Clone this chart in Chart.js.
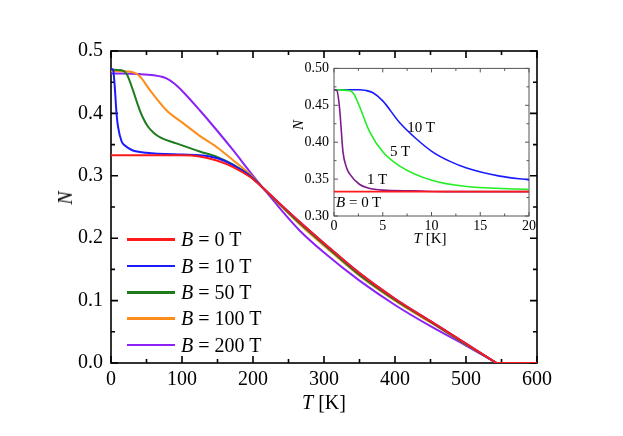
<!DOCTYPE html>
<html>
<head>
<meta charset="utf-8">
<script src="https://cdn.jsdelivr.net/npm/chart.js@4.4.1/dist/chart.umd.min.js"></script>
<style>
  body { margin: 0; background: #fff; }
  #wrap { position: relative; width: 623px; height: 436px; font-family: "Liberation Serif", "Times New Roman", serif; color: #000; }
  #wrap canvas { position: absolute; }
  .lbl { position: absolute; white-space: nowrap; line-height: 1; transform: translate(-50%, -50%); }
  .row { position: absolute; left: 127px; height: 20px; }
  .row span.sw { position: absolute; left: 0; top: 9px; width: 48px; height: 2.5px; }
  .row span.tx { position: absolute; left: 54px; top: 0; font-size: 20px; line-height: 20px; white-space: nowrap; }
</style>
</head>
<body>
<div id="wrap">
  <canvas id="main" width="623" height="436" style="left:0;top:0"></canvas>
  <canvas id="inset" width="260" height="195" style="left:280px;top:55px"></canvas>
  <div id="legend"></div>
  <div class="lbl" style="left:324px;top:402px;font-size:20px"><i>T</i> [K]</div>
  <div class="lbl" style="left:65px;top:198px;font-size:20px;transform:translate(-50%,-50%) rotate(-90deg)"><i>N</i></div>
  <div class="lbl" style="left:430px;top:238px;font-size:15px"><i>T</i> [K]</div>
  <div class="lbl" style="left:298px;top:125px;font-size:15px;transform:translate(-50%,-50%) rotate(-90deg)"><i>N</i></div>
  <div class="lbl" style="left:421px;top:127px;font-size:15px">10 T</div>
  <div class="lbl" style="left:400px;top:151px;font-size:15px">5 T</div>
  <div class="lbl" style="left:377px;top:179px;font-size:15px">1 T</div>
  <div class="lbl" style="left:336px;top:202px;font-size:15px;transform:translate(0,-50%)"><i>B</i> = 0 T</div>
</div>
<script>
// main plot: N vs T for several fields (curves end at Tc ~ 543 K)
const fieldLabels = ["0", "10", "50", "100", "200"];
const mainColors = ["#ff1a1a", "#1a1aff", "#1e7b1e", "#ff8c1a", "#8c22f5"];

const tB0 = [0, 50, 100, 125, 150, 172, 196, 214.5, 240, 266, 300, 350, 400, 450, 500, 543];
const nB0 = [0.333, 0.333, 0.333, 0.331, 0.324, 0.314, 0.298, 0.280, 0.253, 0.226, 0.192, 0.144, 0.103, 0.067, 0.031, 0];

const tB10 = [0, 3, 5, 8, 10, 15, 20, 30, 50, 100, 125, 150, 172, 196, 214.5, 240, 266, 300, 350, 400, 450, 500, 543];
const nB10 = [0.471, 0.470, 0.447, 0.397, 0.378, 0.355, 0.348, 0.341, 0.337, 0.334, 0.333, 0.328, 0.317, 0.2995, 0.280, 0.253, 0.226, 0.192, 0.144, 0.103, 0.067, 0.031, 0];

const tB50 = [0, 15, 22, 31, 38, 45, 52, 60, 70, 92, 125, 150, 172, 196, 214.5, 240, 266, 300, 350, 400, 450, 500, 543];
const nB50 = [0.470, 0.469, 0.463, 0.437, 0.413, 0.393, 0.379, 0.369, 0.361, 0.352, 0.339, 0.330, 0.318, 0.300, 0.280, 0.252, 0.224, 0.190, 0.141, 0.101, 0.066, 0.030, 0];

const tB100 = [0, 25, 40, 55, 78, 102, 125, 150, 172, 196, 214.5, 240, 266, 300, 350, 400, 450, 500, 543];
const nB100 = [0.468, 0.467, 0.460, 0.437, 0.405, 0.384, 0.364, 0.345, 0.325, 0.302, 0.280, 0.251, 0.222, 0.188, 0.140, 0.100, 0.065, 0.030, 0];

const tB200 = [0, 40, 60, 78, 90, 102, 125, 149, 172, 196, 214.5, 240, 266, 300, 350, 400, 450, 500, 543];
const nB200 = [0.464, 0.463, 0.461, 0.456, 0.447, 0.434, 0.405, 0.373, 0.341, 0.306, 0.280, 0.245, 0.212, 0.177, 0.132, 0.093, 0.059, 0.028, 0];

// N = 0 above Tc, common to every field
const tTail = [543, 600];
const nTail = [0, 0];

// inset: low temperature, small fields
const insetColors = ["#ff1a1a", "#7d1a8c", "#22ee22", "#1a1aff"];

const tI0 = [0, 20];
const nI0 = [0.333, 0.333];

const tI1 = [0, 0.3, 0.58, 0.92, 1.3, 1.6, 2.6, 3.5, 5, 8, 12, 20];
const nI1 = [0.471, 0.470, 0.445, 0.387, 0.365, 0.357, 0.343, 0.338, 0.335, 0.334, 0.333, 0.333];

const tI5 = [0, 1.5, 2.0, 2.6, 3.66, 5, 6.7, 10.1, 13.6, 20];
const nI5 = [0.471, 0.470, 0.466, 0.449, 0.414, 0.387, 0.368, 0.348, 0.340, 0.336];

const tI10 = [0, 2.5, 3.3, 4, 5, 6.7, 8.4, 10.1, 11.9, 13.6, 17, 20];
const nI10 = [0.471, 0.471, 0.470, 0.467, 0.456, 0.427, 0.405, 0.387, 0.374, 0.365, 0.354, 0.349];

const xy = (t, n) => t.map((v, i) => ({ x: v, y: n[i] }));

// frame + inward ticks on all four sides
const frameTicks = {
  id: "frameTicks",
  beforeDatasetsDraw(chart, args, o) {
    const { ctx, chartArea: a, scales: { x, y } } = chart;
    const isMajor = (v, step) => Math.abs(v / step - Math.round(v / step)) < 1e-6;
    ctx.save();
    ctx.strokeStyle = o.color;
    ctx.lineWidth = o.lineWidth;
    ctx.strokeRect(a.left, a.top, a.right - a.left, a.bottom - a.top);
    ctx.beginPath();
    for (let i = 0; x.min + i * o.xMinor <= x.max + 1e-9; i++) {
      const v = x.min + i * o.xMinor;
      const px = x.getPixelForValue(v);
      const len = isMajor(v, o.xMajor) ? o.majorLen : o.minorLen;
      ctx.moveTo(px, a.bottom); ctx.lineTo(px, a.bottom - len);
      ctx.moveTo(px, a.top); ctx.lineTo(px, a.top + len);
    }
    for (let i = 0; y.min + i * o.yMinor <= y.max + 1e-9; i++) {
      const v = y.min + i * o.yMinor;
      const py = y.getPixelForValue(v);
      const len = isMajor(v, o.yMajor) ? o.majorLen : o.minorLen;
      ctx.moveTo(a.left, py); ctx.lineTo(a.left + len, py);
      ctx.moveTo(a.right, py); ctx.lineTo(a.right - len, py);
    }
    ctx.stroke();
    ctx.restore();
  }
};

function build() {
  Chart.defaults.font.family = "'Liberation Serif', 'Times New Roman', serif";
  Chart.defaults.color = "#000";

  const mainSeries = [xy(tB0, nB0), xy(tB10, nB10), xy(tB50, nB50), xy(tB100, nB100), xy(tB200, nB200)];
  const mainSets = mainSeries.map((d, i) => ({
    label: "B = " + fieldLabels[i] + " T",
    data: d,
    borderColor: mainColors[i],
    borderWidth: 2,
    pointRadius: 0,
    fill: false,
    cubicInterpolationMode: "monotone"
  }));
  // zero tail goes on top, in the B = 0 colour
  mainSets.unshift({ data: xy(tTail, nTail), borderColor: mainColors[0], borderWidth: 2, pointRadius: 0, fill: false });

  new Chart(document.getElementById("main"), {
    type: "line",
    data: { datasets: mainSets },
    options: {
      responsive: false,
      animation: false,
      layout: { padding: { left: 0, right: 86, top: 51, bottom: 0 } },
      plugins: {
        legend: { display: false },
        tooltip: { enabled: false },
        frameTicks: { color: "#000", lineWidth: 1.6, xMajor: 100, xMinor: 50, yMajor: 0.1, yMinor: 0.05, majorLen: 7, minorLen: 4 }
      },
      scales: {
        x: {
          type: "linear", min: 0, max: 600,
          grid: { display: false, drawTicks: false },
          border: { display: false },
          ticks: { stepSize: 100, maxRotation: 0, autoSkip: false, padding: 5, font: { size: 20 } },
          afterFit(s) { s.height = 73; }
        },
        y: {
          type: "linear", min: 0, max: 0.5,
          grid: { display: false, drawTicks: false },
          border: { display: false },
          ticks: { stepSize: 0.1, padding: 8, font: { size: 20 }, callback: v => v.toFixed(1) },
          afterFit(s) { s.width = 111; }
        }
      }
    },
    plugins: [frameTicks]
  });

  const insetSeries = [xy(tI0, nI0), xy(tI1, nI1), xy(tI5, nI5), xy(tI10, nI10)];

  new Chart(document.getElementById("inset"), {
    type: "line",
    data: {
      datasets: insetSeries.map((d, i) => ({
        data: d,
        borderColor: insetColors[i],
        borderWidth: 1.6,
        pointRadius: 0,
        fill: false,
        cubicInterpolationMode: "monotone"
      }))
    },
    options: {
      responsive: false,
      animation: false,
      layout: { padding: { left: 0, right: 11, top: 10, bottom: 0 } },
      plugins: {
        legend: { display: false },
        tooltip: { enabled: false },
        frameTicks: { color: "#555", lineWidth: 1, xMajor: 5, xMinor: 2.5, yMajor: 0.05, yMinor: 0.025, majorLen: 4, minorLen: 2.5 }
      },
      scales: {
        x: {
          type: "linear", min: 0, max: 20,
          grid: { display: false, drawTicks: false },
          border: { display: false },
          ticks: { stepSize: 5, maxRotation: 0, autoSkip: false, padding: 2, font: { size: 14 } },
          afterFit(s) { s.height = 34; }
        },
        y: {
          type: "linear", min: 0.3, max: 0.5,
          grid: { display: false, drawTicks: false },
          border: { display: false },
          ticks: { stepSize: 0.05, padding: 5, font: { size: 14 }, callback: v => v.toFixed(2) },
          afterFit(s) { s.width = 54; }
        }
      }
    },
    plugins: [frameTicks]
  });

  // legend rows
  const legend = document.getElementById("legend");
  const rowY = [239, 265.5, 292, 318, 344.5];
  fieldLabels.forEach((f, i) => {
    const row = document.createElement("div");
    row.className = "row";
    row.style.top = (rowY[i] - 10) + "px";
    row.innerHTML = '<span class="sw" style="background:' + mainColors[i] + '"></span>' +
                    '<span class="tx"><i>B</i> = ' + f + ' T</span>';
    legend.appendChild(row);
  });
}

Promise.all([
  document.fonts.load('20px "Liberation Serif"'),
  document.fonts.load('italic 20px "Liberation Serif"')
]).then(build, build);
</script>
</body>
</html>
